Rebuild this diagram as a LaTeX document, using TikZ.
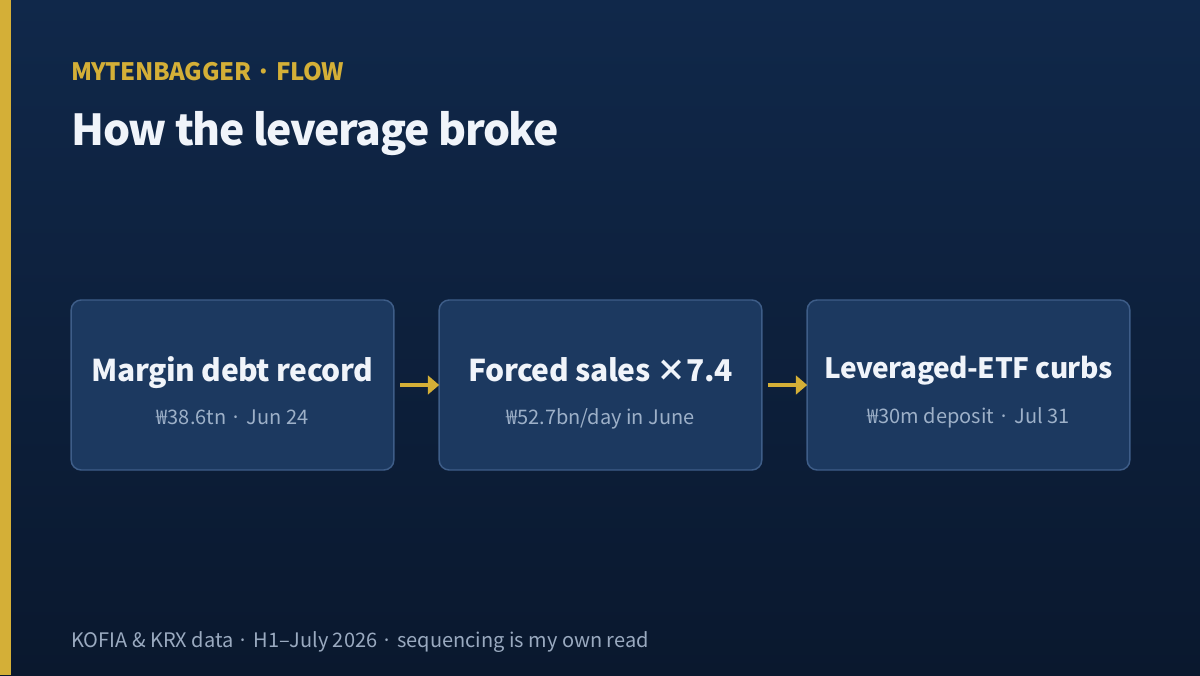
\documentclass[tikz,border=0pt]{standalone}
\usepackage{fontspec}
\setmainfont{Noto Sans CJK KR}
\usetikzlibrary{arrows.meta}
\definecolor{bgtop}{HTML}{10284A}
\definecolor{bgbot}{HTML}{0A182E}
\definecolor{gold}{HTML}{D4AF37}
\definecolor{boxfill}{HTML}{1C3960}
\definecolor{boxline}{HTML}{3E5D88}
\definecolor{titlewhite}{HTML}{F0F4FA}
\definecolor{subgray}{HTML}{9DB0C8}
\definecolor{footgray}{HTML}{9AAAC0}
\tikzset{
  stepbox/.style={draw=boxline, line width=1.1pt, fill=boxfill, rounded corners=7.5pt,
    minimum width=242pt, minimum height=127.5pt, inner sep=0pt, outer sep=0pt},
  boxtitle/.style={anchor=base, text=titlewhite, font=\fontsize{22.5pt}{26pt}\selectfont\bfseries\addfontfeature{LetterSpace=-1.5}, inner sep=0pt},
  boxsub/.style={anchor=base, text=subgray, font=\fontsize{15pt}{18pt}\selectfont, inner sep=0pt},
  flow/.style={draw=gold, line width=3pt, -{Triangle[length=8.5pt,width=14pt]}, shorten <=4.5pt},
}
\begin{document}
\begin{tikzpicture}[x=0.75pt,y=-0.75pt]
\useasboundingbox (0,0) rectangle (1200,675);
\shade[top color=bgtop, bottom color=bgbot] (0,0) rectangle (1200,675);
\fill[gold] (0,0) rectangle (11,675);
\node[anchor=base west, inner sep=0pt, text=gold, font=\fontsize{18pt}{22pt}\selectfont\bfseries\addfontfeature{LetterSpace=-1.5}] (eyebrow) at (71,80) {MYTENBAGGER · FLOW};
\node[anchor=base west, inner sep=0pt, text=titlewhite, font=\fontsize{32pt}{38pt}\selectfont\bfseries\addfontfeature{LetterSpace=-3}] (title) at (71,145) {How the leverage broke};

\node[stepbox] (b1) at (232.5,385) {};
\node[stepbox] (b2) at (600.5,385) {};
\node[stepbox] (b3) at (968.5,385) {};

\node[boxtitle] (t1) at (232.5,381) {Margin debt record};
\node[boxsub] (s1) at (232.5,424) {₩38.6tn · Jun 24};
\node[boxtitle] (t2) at (600.5,381) {Forced sales ×7.4};
\node[boxsub] (s2) at (600.5,424) {₩52.7bn/day in June};
\node[boxtitle, font=\fontsize{21pt}{24pt}\selectfont\bfseries\addfontfeature{LetterSpace=-1.5}] (t3) at (968.5,378.5) {Leveraged-ETF curbs};
\node[boxsub] (s3) at (968.5,423) {₩30m deposit · Jul 31};

\draw[flow] (b1.east) -- (b2.west);
\draw[flow] (b2.east) -- (b3.west);

\node[anchor=base west, inner sep=0pt, text=footgray, font=\fontsize{15pt}{18pt}\selectfont] (foot) at (71,647) {KOFIA \& KRX data · H1–July 2026 · sequencing is my own read};
\end{tikzpicture}
\end{document}
